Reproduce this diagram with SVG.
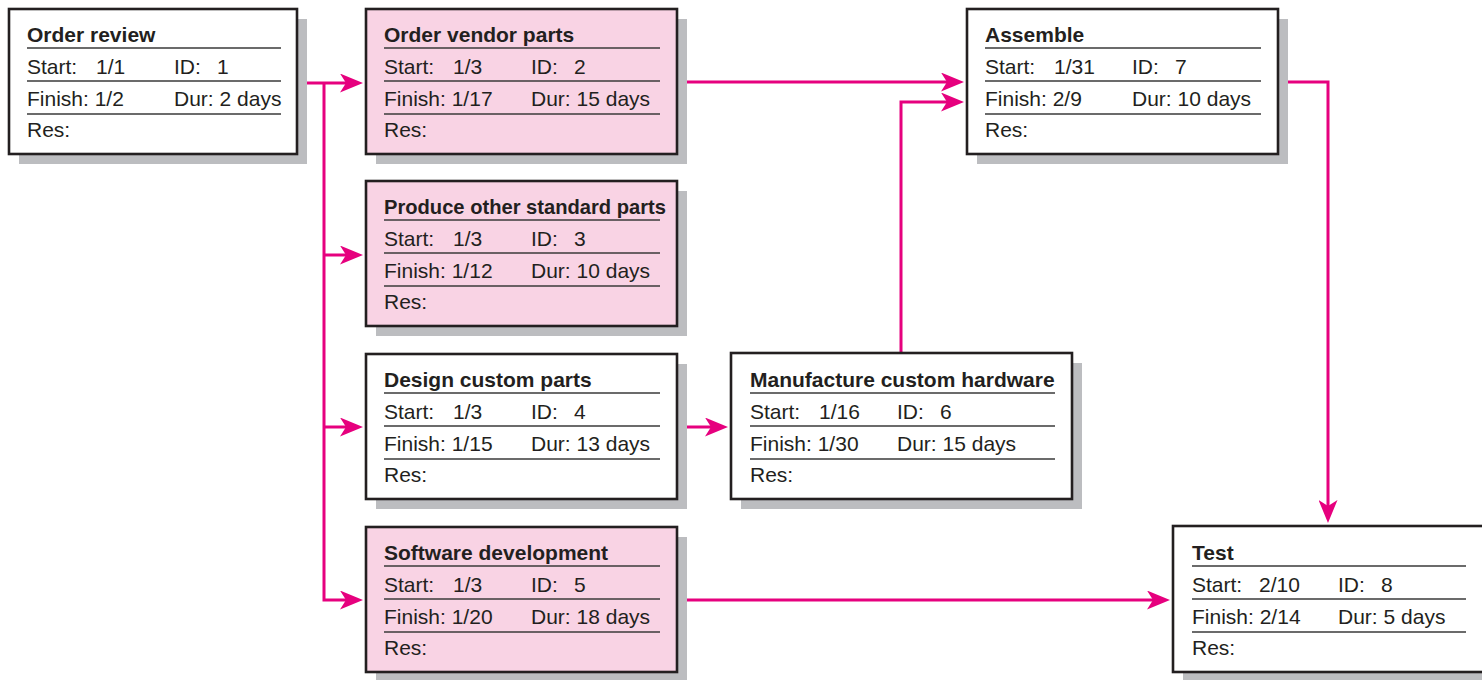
<svg xmlns="http://www.w3.org/2000/svg" width="1482" height="680" viewBox="0 0 1482 680">
<defs>
<style>
.shadow{fill:#bcbdc0}
.box{stroke:#231f20;stroke-width:2.6}
.w{fill:#ffffff}
.p{fill:#f9d3e4}
.sep{stroke:#3a3a3a;stroke-width:1.5}
text{font-family:"Liberation Sans",Arial,sans-serif;font-size:21px;fill:#231f20}
.t{font-weight:bold}
.c{fill:none;stroke:#e6007e;stroke-width:3;marker-end:url(#ah)}
</style>
<marker id="ah" viewBox="0 0 23 19" refX="6" refY="9.5" markerWidth="23" markerHeight="19" markerUnits="userSpaceOnUse" orient="auto">
<path d="M0,0 L23,9.5 L0,19 L6,9.5 Z" fill="#e6007e"/>
</marker>
</defs>
<rect x="0" y="0" width="1482" height="680" fill="#ffffff"/>

<g id="connectors">
<path class="c" d="M297,83 H346"/>
<path class="c" d="M324,83 V600 H346"/>
<path class="c" d="M324,255 H346"/>
<path class="c" d="M324,427 H346"/>
<path class="c" d="M677,82 H947"/>
<path class="c" d="M901,353 V102 H947"/>
<path class="c" d="M677,427 H711"/>
<path class="c" d="M1278,82 H1328 V506"/>
<path class="c" d="M677,600 H1153"/>
</g>

<g id="node1">
<rect class="shadow" x="19" y="19" width="288" height="145"/>
<rect class="box w" x="9" y="9" width="288" height="145"/>
<text class="t" x="27" y="42">Order review</text>
<line class="sep" x1="27" y1="48" x2="281" y2="48"/>
<text x="27" y="74">Start:</text><text x="96" y="74">1/1</text>
<text x="174" y="74">ID:</text><text x="217" y="74">1</text>
<line class="sep" x1="27" y1="81" x2="281" y2="81"/>
<text x="27" y="106">Finish: 1/2</text>
<text x="174" y="106">Dur: 2 days</text>
<line class="sep" x1="27" y1="114" x2="281" y2="114"/>
<text x="27" y="137">Res:</text>
</g>

<g id="node2">
<rect class="shadow" x="376" y="19" width="311" height="145"/>
<rect class="box p" x="366" y="9" width="311" height="145"/>
<text class="t" x="384" y="42">Order vendor parts</text>
<line class="sep" x1="384" y1="48" x2="660" y2="48"/>
<text x="384" y="74">Start:</text><text x="453" y="74">1/3</text>
<text x="531" y="74">ID:</text><text x="574" y="74">2</text>
<line class="sep" x1="384" y1="81" x2="660" y2="81"/>
<text x="384" y="106">Finish: 1/17</text>
<text x="531" y="106">Dur: 15 days</text>
<line class="sep" x1="384" y1="114" x2="660" y2="114"/>
<text x="384" y="137">Res:</text>
</g>

<g id="node3">
<rect class="shadow" x="376" y="191" width="311" height="145"/>
<rect class="box p" x="366" y="181" width="311" height="145"/>
<text class="t" x="384" y="214" textLength="282" lengthAdjust="spacingAndGlyphs">Produce other standard parts</text>
<line class="sep" x1="384" y1="220" x2="660" y2="220"/>
<text x="384" y="246">Start:</text><text x="453" y="246">1/3</text>
<text x="531" y="246">ID:</text><text x="574" y="246">3</text>
<line class="sep" x1="384" y1="253" x2="660" y2="253"/>
<text x="384" y="278">Finish: 1/12</text>
<text x="531" y="278">Dur: 10 days</text>
<line class="sep" x1="384" y1="286" x2="660" y2="286"/>
<text x="384" y="309">Res:</text>
</g>

<g id="node4">
<rect class="shadow" x="376" y="364" width="311" height="145"/>
<rect class="box w" x="366" y="354" width="311" height="145"/>
<text class="t" x="384" y="387">Design custom parts</text>
<line class="sep" x1="384" y1="393" x2="660" y2="393"/>
<text x="384" y="419">Start:</text><text x="453" y="419">1/3</text>
<text x="531" y="419">ID:</text><text x="574" y="419">4</text>
<line class="sep" x1="384" y1="426" x2="660" y2="426"/>
<text x="384" y="451">Finish: 1/15</text>
<text x="531" y="451">Dur: 13 days</text>
<line class="sep" x1="384" y1="459" x2="660" y2="459"/>
<text x="384" y="482">Res:</text>
</g>

<g id="node5">
<rect class="shadow" x="376" y="537" width="311" height="145"/>
<rect class="box p" x="366" y="527" width="311" height="145"/>
<text class="t" x="384" y="560">Software development</text>
<line class="sep" x1="384" y1="566" x2="660" y2="566"/>
<text x="384" y="592">Start:</text><text x="453" y="592">1/3</text>
<text x="531" y="592">ID:</text><text x="574" y="592">5</text>
<line class="sep" x1="384" y1="599" x2="660" y2="599"/>
<text x="384" y="624">Finish: 1/20</text>
<text x="531" y="624">Dur: 18 days</text>
<line class="sep" x1="384" y1="632" x2="660" y2="632"/>
<text x="384" y="655">Res:</text>
</g>

<g id="node6">
<rect class="shadow" x="741" y="363" width="341" height="146"/>
<rect class="box w" x="731" y="353" width="341" height="146"/>
<text class="t" x="750" y="387">Manufacture custom hardware</text>
<line class="sep" x1="750" y1="393" x2="1055" y2="393"/>
<text x="750" y="419">Start:</text><text x="819" y="419">1/16</text>
<text x="897" y="419">ID:</text><text x="940" y="419">6</text>
<line class="sep" x1="750" y1="426" x2="1055" y2="426"/>
<text x="750" y="451">Finish: 1/30</text>
<text x="897" y="451">Dur: 15 days</text>
<line class="sep" x1="750" y1="459" x2="1055" y2="459"/>
<text x="750" y="482">Res:</text>
</g>

<g id="node7">
<rect class="shadow" x="977" y="19" width="311" height="145"/>
<rect class="box w" x="967" y="9" width="311" height="145"/>
<text class="t" x="985" y="42">Assemble</text>
<line class="sep" x1="985" y1="48" x2="1261" y2="48"/>
<text x="985" y="74">Start:</text><text x="1054" y="74">1/31</text>
<text x="1132" y="74">ID:</text><text x="1175" y="74">7</text>
<line class="sep" x1="985" y1="81" x2="1261" y2="81"/>
<text x="985" y="106">Finish: 2/9</text>
<text x="1132" y="106">Dur: 10 days</text>
<line class="sep" x1="985" y1="114" x2="1261" y2="114"/>
<text x="985" y="137">Res:</text>
</g>

<g id="node8">
<rect class="shadow" x="1183" y="536" width="311" height="146"/>
<rect class="box w" x="1173" y="526" width="311" height="146"/>
<text class="t" x="1192" y="560">Test</text>
<line class="sep" x1="1192" y1="566" x2="1466" y2="566"/>
<text x="1192" y="592">Start:</text><text x="1259" y="592">2/10</text>
<text x="1338" y="592">ID:</text><text x="1381" y="592">8</text>
<line class="sep" x1="1192" y1="599" x2="1466" y2="599"/>
<text x="1192" y="624">Finish: 2/14</text>
<text x="1338" y="624">Dur: 5 days</text>
<line class="sep" x1="1192" y1="632" x2="1466" y2="632"/>
<text x="1192" y="655">Res:</text>
</g>
</svg>
